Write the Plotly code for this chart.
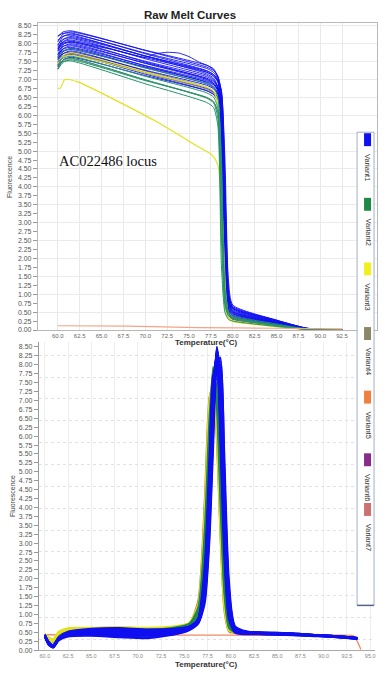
import plotly.graph_objects as go

# ---------------- DATA ----------------
# Top panel: raw melt curves (temperature grid shared by most samples)
TOP_T = [60.0, 60.6, 61.5, 70.0, 77.0, 77.8, 78.3, 78.7, 79.1, 79.5, 80.0, 85.0, 88.5, 92.5]

TOP_VARIANT1 = [
    [8.20, 8.33, 8.36, 7.81, 7.35, 7.25, 7.10, 6.60, 3.60, 0.90, 0.62, 0.26, 0.04, 0.0],
    [8.05, 8.27, 8.33, 7.82, 7.40, 7.30, 7.05, 5.80, 1.60, 0.55, 0.40, 0.17, 0.03, 0.0],
    [8.22, 8.29, 8.30, 7.72, 7.25, 7.14, 6.95, 6.40, 2.80, 0.75, 0.50, 0.21, 0.03, 0.0],
    [7.95, 8.20, 8.27, 7.74, 7.31, 7.20, 7.02, 6.70, 4.80, 1.40, 0.70, 0.28, 0.05, 0.0],
    [8.10, 8.21, 8.24, 7.65, 7.16, 7.04, 6.80, 5.20, 1.20, 0.45, 0.33, 0.14, 0.03, 0.0],
    [7.85, 8.12, 8.20, 7.66, 7.21, 7.10, 6.92, 6.30, 2.20, 0.62, 0.45, 0.19, 0.03, 0.0],
    [7.98, 8.12, 8.17, 7.66, 7.24, 7.14, 6.98, 6.65, 4.20, 1.10, 0.58, 0.24, 0.04, 0.0],
    [7.80, 8.06, 8.14, 7.58, 7.12, 7.00, 6.75, 4.90, 1.00, 0.40, 0.30, 0.12, 0.02, 0.0],
    [7.92, 8.05, 8.10, 7.61, 7.20, 7.10, 6.95, 6.55, 3.30, 0.80, 0.52, 0.22, 0.04, 0.0],
    [7.70, 7.98, 8.07, 7.49, 7.02, 6.90, 6.72, 6.20, 2.00, 0.58, 0.42, 0.18, 0.03, 0.0],
    [7.85, 7.99, 8.04, 7.51, 7.08, 6.97, 6.80, 6.45, 3.90, 1.00, 0.66, 0.27, 0.05, 0.0],
    [7.62, 7.92, 8.00, 7.45, 7.00, 6.89, 6.68, 5.60, 1.40, 0.50, 0.36, 0.15, 0.03, 0.0],
    [7.80, 7.93, 7.97, 7.46, 7.04, 6.94, 6.78, 6.35, 2.60, 0.70, 0.48, 0.20, 0.03, 0.0],
    [7.55, 7.86, 7.94, 7.38, 6.92, 6.80, 6.62, 6.10, 3.00, 0.85, 0.55, 0.23, 0.04, 0.0],
    [7.70, 7.85, 7.90, 7.39, 6.97, 6.87, 6.70, 5.40, 1.30, 0.48, 0.34, 0.14, 0.02, 0.0],
    [7.48, 7.78, 7.87, 7.33, 6.88, 6.77, 6.60, 6.20, 3.40, 0.95, 0.60, 0.25, 0.04, 0.0],
    [7.66, 7.79, 7.84, 7.35, 6.94, 6.85, 6.70, 6.30, 2.40, 0.66, 0.46, 0.19, 0.03, 0.0],
    [7.40, 7.72, 7.80, 7.24, 6.78, 6.66, 6.48, 5.00, 1.10, 0.42, 0.31, 0.13, 0.02, 0.0],
    [7.60, 7.72, 7.77, 7.26, 6.84, 6.74, 6.58, 6.15, 3.70, 1.05, 0.64, 0.27, 0.05, 0.0],
    [7.36, 7.65, 7.73, 7.19, 6.75, 6.64, 6.45, 5.90, 1.80, 0.56, 0.40, 0.17, 0.03, 0.0],
    [7.52, 7.64, 7.70, 7.15, 6.69, 6.58, 6.40, 6.00, 2.90, 0.80, 0.52, 0.22, 0.04, 0.0],
    [7.30, 7.55, 7.62, 7.11, 6.69, 6.59, 6.42, 5.30, 1.25, 0.46, 0.34, 0.14, 0.02, 0.0],
]
# one Variant1 sample with a shoulder around 72-74 °C
TOP_V1_BUMP_T = [60.0, 60.6, 61.5, 66.0, 70.0, 71.2, 72.5, 73.8, 75.0, 76.2, 77.2, 77.9,
                 78.4, 78.8, 79.2, 79.6, 80.0, 85.0, 88.5, 92.5]
TOP_V1_BUMP_F = [7.90, 8.02, 8.05, 7.85, 7.62, 7.72, 7.76, 7.74, 7.64, 7.48, 7.38, 7.25,
                 7.00, 6.40, 3.20, 0.90, 0.60, 0.25, 0.04, 0.0]

TOP_VARIANT2 = [
    [7.35, 7.55, 7.60, 6.99, 6.48, 6.35, 5.90, 2.60, 0.70, 0.40, 0.32, 0.12, 0.02, 0.0],
    [7.28, 7.48, 7.55, 6.97, 6.50, 6.38, 6.10, 4.20, 1.00, 0.48, 0.36, 0.14, 0.02, 0.0],
    [7.40, 7.50, 7.52, 6.88, 6.36, 6.22, 5.70, 1.80, 0.50, 0.30, 0.25, 0.10, 0.02, 0.0],
    [7.62, 7.80, 7.85, 7.32, 6.89, 6.78, 6.50, 4.80, 1.20, 0.52, 0.40, 0.17, 0.03, 0.0],
    [7.50, 7.60, 7.65, 7.09, 6.63, 6.51, 6.20, 3.40, 0.80, 0.42, 0.33, 0.13, 0.02, 0.0],
]
TOP_VARIANT3 = [
    [7.45, 7.68, 7.75, 7.22, 6.79, 6.68, 6.30, 3.00, 0.60, 0.30, 0.24, 0.09, 0.01, 0.0],
    [7.52, 7.64, 7.68, 7.19, 6.78, 6.68, 6.40, 4.00, 0.75, 0.34, 0.27, 0.10, 0.02, 0.0],
]
# low yellow outlier
TOP_V3_LOW_T = [60.0, 60.3, 60.8, 62.2, 71.0, 76.2, 77.6, 78.3, 78.8, 79.2, 79.6, 80.0, 85.0, 88.5, 92.5]
TOP_V3_LOW_F = [6.75, 6.76, 7.00, 6.94, 5.86, 5.10, 4.90, 4.60, 3.20, 1.00, 0.35, 0.25, 0.10, 0.02, 0.0]

TOP_VARIANT4 = [
    [7.42, 7.65, 7.72, 7.18, 6.73, 6.62, 6.35, 4.50, 1.00, 0.45, 0.35, 0.14, 0.02, 0.0],
    [7.30, 7.52, 7.58, 6.99, 6.50, 6.38, 6.05, 3.80, 0.85, 0.40, 0.31, 0.12, 0.02, 0.0],
]
TOP_V5_T = [60.0, 68.0, 76.0, 85.0, 92.5]
TOP_V5_F = [0.12, 0.11, 0.07, 0.05, 0.03]

# Bottom panel: melt peaks
BOT_T = [60.0, 60.4, 60.9, 61.5, 62.5, 65.0, 68.0, 71.0, 74.0, 75.5, 76.5, 77.2,
         77.7, 78.1, 78.5, 78.9, 79.3, 79.8, 80.5, 83.0, 86.0, 89.0, 91.5, 93.6]

BOT_VARIANT1 = [
    [0.40, 0.20, 0.10, 0.32, 0.46, 0.52, 0.50, 0.48, 0.55, 0.62, 0.80, 1.60, 3.80, 6.60, 8.40, 7.60, 4.40, 1.40, 0.55, 0.48, 0.46, 0.42, 0.38, 0.33],
    [0.38, 0.16, 0.08, 0.28, 0.42, 0.48, 0.46, 0.45, 0.52, 0.60, 0.85, 2.00, 4.60, 7.30, 8.30, 6.60, 3.40, 1.00, 0.50, 0.46, 0.44, 0.40, 0.37, 0.32],
    [0.42, 0.22, 0.12, 0.35, 0.50, 0.56, 0.58, 0.55, 0.58, 0.65, 0.78, 1.50, 3.60, 6.40, 8.30, 7.80, 4.60, 1.50, 0.58, 0.50, 0.48, 0.43, 0.39, 0.34],
    [0.36, 0.18, 0.09, 0.30, 0.40, 0.44, 0.42, 0.40, 0.48, 0.58, 0.90, 2.40, 5.40, 7.70, 7.90, 5.60, 2.60, 0.85, 0.48, 0.44, 0.42, 0.39, 0.36, 0.31],
    [0.44, 0.24, 0.14, 0.36, 0.52, 0.60, 0.62, 0.58, 0.60, 0.66, 0.82, 1.80, 4.20, 7.00, 8.50, 7.20, 3.90, 1.20, 0.56, 0.50, 0.47, 0.43, 0.38, 0.33],
    [0.39, 0.19, 0.10, 0.31, 0.44, 0.46, 0.40, 0.36, 0.45, 0.56, 0.76, 1.40, 3.20, 5.90, 8.00, 8.10, 5.20, 1.80, 0.62, 0.47, 0.45, 0.41, 0.37, 0.32],
    [0.41, 0.21, 0.11, 0.33, 0.47, 0.54, 0.55, 0.52, 0.56, 0.63, 0.84, 1.90, 4.40, 7.20, 8.40, 6.90, 3.60, 1.10, 0.52, 0.48, 0.46, 0.42, 0.38, 0.33],
    [0.37, 0.15, 0.07, 0.27, 0.38, 0.40, 0.36, 0.33, 0.44, 0.55, 0.74, 1.30, 3.00, 5.60, 7.90, 8.20, 5.60, 2.00, 0.66, 0.46, 0.43, 0.40, 0.36, 0.31],
    [0.43, 0.23, 0.13, 0.35, 0.49, 0.58, 0.60, 0.57, 0.60, 0.66, 0.88, 2.20, 5.00, 7.60, 8.20, 6.20, 3.00, 0.95, 0.52, 0.49, 0.47, 0.43, 0.39, 0.34],
    [0.40, 0.20, 0.10, 0.32, 0.45, 0.50, 0.48, 0.46, 0.52, 0.60, 0.80, 1.70, 4.00, 6.80, 8.45, 7.40, 4.10, 1.30, 0.54, 0.48, 0.46, 0.42, 0.38, 0.33],
    [0.38, 0.17, 0.08, 0.29, 0.41, 0.45, 0.43, 0.41, 0.49, 0.58, 0.79, 1.55, 3.50, 6.20, 8.10, 7.70, 4.80, 1.60, 0.60, 0.46, 0.44, 0.40, 0.37, 0.32],
    [0.42, 0.22, 0.12, 0.34, 0.48, 0.55, 0.57, 0.54, 0.57, 0.64, 0.86, 2.10, 4.80, 7.40, 8.20, 6.40, 3.20, 0.98, 0.51, 0.49, 0.47, 0.43, 0.39, 0.34],
    [0.40, 0.19, 0.10, 0.31, 0.44, 0.49, 0.47, 0.44, 0.51, 0.59, 0.77, 1.45, 3.40, 6.10, 8.20, 7.90, 4.90, 1.70, 0.60, 0.47, 0.45, 0.41, 0.37, 0.32],
    [0.41, 0.21, 0.11, 0.33, 0.46, 0.53, 0.53, 0.50, 0.54, 0.62, 0.83, 1.85, 4.30, 7.10, 8.35, 7.00, 3.70, 1.15, 0.53, 0.48, 0.46, 0.42, 0.38, 0.33],
    [0.39, 0.18, 0.09, 0.30, 0.43, 0.47, 0.44, 0.42, 0.50, 0.59, 0.81, 1.75, 4.10, 6.90, 8.25, 7.20, 4.00, 1.25, 0.55, 0.47, 0.45, 0.41, 0.37, 0.32],
    [0.43, 0.23, 0.13, 0.35, 0.50, 0.57, 0.59, 0.56, 0.59, 0.65, 0.80, 1.60, 3.70, 6.50, 8.30, 7.70, 4.50, 1.45, 0.57, 0.50, 0.48, 0.43, 0.39, 0.34],
    [0.38, 0.17, 0.08, 0.29, 0.40, 0.42, 0.38, 0.35, 0.46, 0.57, 0.87, 2.20, 5.10, 7.60, 8.00, 6.00, 2.90, 0.92, 0.50, 0.45, 0.43, 0.40, 0.36, 0.31],
    [0.41, 0.20, 0.11, 0.32, 0.46, 0.52, 0.51, 0.49, 0.54, 0.61, 0.78, 1.50, 3.50, 6.30, 8.40, 7.90, 4.70, 1.55, 0.58, 0.48, 0.46, 0.42, 0.38, 0.33],
    [0.40, 0.20, 0.10, 0.32, 0.45, 0.51, 0.49, 0.47, 0.53, 0.61, 0.82, 1.80, 4.20, 7.00, 8.30, 7.10, 3.80, 1.20, 0.54, 0.48, 0.46, 0.42, 0.38, 0.33],
    [0.42, 0.21, 0.12, 0.34, 0.47, 0.54, 0.56, 0.53, 0.56, 0.63, 0.79, 1.65, 3.90, 6.70, 8.50, 7.50, 4.20, 1.35, 0.55, 0.49, 0.47, 0.43, 0.39, 0.34],
]
BOT_VARIANT2 = [
    [0.40, 0.22, 0.14, 0.36, 0.50, 0.56, 0.58, 0.56, 0.62, 0.72, 1.20, 3.40, 6.50, 7.80, 6.80, 4.00, 1.60, 0.62, 0.50, 0.48, 0.46, 0.42, 0.38, 0.33],
    [0.42, 0.24, 0.15, 0.38, 0.52, 0.58, 0.60, 0.58, 0.64, 0.74, 1.05, 2.80, 5.80, 7.70, 7.30, 4.70, 2.00, 0.70, 0.51, 0.49, 0.47, 0.43, 0.39, 0.34],
    [0.38, 0.20, 0.12, 0.34, 0.48, 0.54, 0.55, 0.53, 0.60, 0.70, 1.10, 3.00, 6.00, 7.95, 7.10, 4.40, 1.80, 0.66, 0.49, 0.47, 0.45, 0.41, 0.37, 0.32],
    [0.41, 0.21, 0.13, 0.35, 0.49, 0.55, 0.57, 0.55, 0.61, 0.71, 0.95, 2.40, 5.20, 7.50, 7.60, 5.30, 2.40, 0.78, 0.50, 0.48, 0.46, 0.42, 0.38, 0.33],
]
BOT_VARIANT3 = [
    [0.45, 0.35, 0.30, 0.50, 0.60, 0.62, 0.64, 0.62, 0.66, 0.75, 1.30, 4.00, 7.00, 7.50, 6.00, 3.20, 1.20, 0.55, 0.50, 0.48, 0.46, 0.43, 0.39, 0.34],
    [0.44, 0.32, 0.26, 0.48, 0.58, 0.60, 0.62, 0.60, 0.64, 0.73, 1.20, 3.60, 6.70, 7.80, 6.50, 3.60, 1.40, 0.58, 0.52, 0.49, 0.47, 0.43, 0.39, 0.34],
    [0.46, 0.36, 0.31, 0.52, 0.62, 0.63, 0.65, 0.63, 0.67, 0.76, 1.10, 3.20, 6.20, 7.90, 7.00, 4.20, 1.70, 0.62, 0.52, 0.50, 0.48, 0.44, 0.40, 0.35],
    [0.43, 0.30, 0.24, 0.46, 0.56, 0.58, 0.60, 0.58, 0.62, 0.72, 1.00, 2.70, 5.60, 7.60, 7.40, 4.90, 2.10, 0.72, 0.52, 0.49, 0.47, 0.43, 0.39, 0.34],
]
BOT_VARIANT4 = [
    [0.40, 0.22, 0.14, 0.36, 0.50, 0.55, 0.56, 0.54, 0.60, 0.70, 1.00, 2.60, 5.50, 7.60, 7.40, 5.00, 2.20, 0.74, 0.51, 0.48, 0.46, 0.42, 0.38, 0.33],
]
BOT_VARIANT7 = [
    [0.42, 0.30, 0.22, 0.44, 0.54, 0.56, 0.57, 0.55, 0.60, 0.72, 1.40, 4.30, 7.10, 7.40, 5.80, 3.00, 1.10, 0.52, 0.48, 0.46, 0.44, 0.41, 0.37, 0.32],
]
BOT_V5_T = [60.0, 70.0, 80.0, 90.0, 93.2, 93.6, 94.0]
BOT_V5_F = [0.43, 0.42, 0.42, 0.41, 0.40, 0.25, 0.02]

LEGEND_NAMES = ["Variant1", "Variant2", "Variant3", "Variant4", "Variant5", "Variant6", "Variant7"]
LEGEND_COLORS = ["#1010f0", "#1e8a46", "#f0f020", "#8a876a", "#f08040", "#8a2a8a", "#cc7070"]

TOP_XTICKS = [60.0, 62.5, 65.0, 67.5, 70.0, 72.5, 75.0, 77.5, 80.0, 82.5, 85.0, 87.5, 90.0, 92.5]
BOT_XTICKS = TOP_XTICKS + [95.0]
Y_TICKS = [i * 0.25 for i in range(35)]

# ---------------- FIGURE ----------------
W, H = 389, 676
def px(x): return x / W
def py(y): return 1 - y / H

fig = go.Figure()

def add(xs, ys, color, width, xa, ya, opacity=1.0):
    fig.add_trace(go.Scatter(x=xs, y=ys, mode="lines", xaxis=xa, yaxis=ya,
                             line=dict(color=color, width=width, shape="spline", smoothing=0.6),
                             opacity=opacity, showlegend=False, hoverinfo="skip"))

BLUE, GREEN, YELLOW, OLIVE = "#0f0ff0", "#22936a", "#e2e21c", "#8c8a6a"

# top
for c in TOP_VARIANT1:
    add(TOP_T, c, BLUE, 1.0, "x", "y", 0.9)
add(TOP_V1_BUMP_T, TOP_V1_BUMP_F, BLUE, 1.0, "x", "y", 0.9)
for c in TOP_VARIANT4:
    add(TOP_T, c, OLIVE, 1.0, "x", "y")
for c in TOP_VARIANT3:
    add(TOP_T, c, YELLOW, 1.0, "x", "y")
add(TOP_V3_LOW_T, TOP_V3_LOW_F, YELLOW, 1.2, "x", "y")
for c in TOP_VARIANT2:
    add(TOP_T, c, GREEN, 1.0, "x", "y")
add(TOP_V5_T, TOP_V5_F, "#f4a486", 1.2, "x", "y")

# bottom
add(BOT_V5_T, BOT_V5_F, "#f08a62", 1.4, "x2", "y2")
for c in BOT_VARIANT7:
    add(BOT_T, c, "#c07050", 1.6, "x2", "y2")
for c in BOT_VARIANT3:
    add(BOT_T, c, YELLOW, 1.8, "x2", "y2")
for c in BOT_VARIANT4:
    add(BOT_T, c, OLIVE, 1.6, "x2", "y2")
for c in BOT_VARIANT2:
    add(BOT_T, c, "#1e8a46", 1.8, "x2", "y2")
for c in BOT_VARIANT1:
    add(BOT_T, c, BLUE, 1.8, "x2", "y2")

# empty traces to activate grid-only overlay axes
fig.add_trace(go.Scatter(x=[], y=[], xaxis="x", yaxis="y3", showlegend=False, hoverinfo="skip"))
fig.add_trace(go.Scatter(x=[], y=[], xaxis="x2", yaxis="y4", showlegend=False, hoverinfo="skip"))

tickfont = dict(family="Liberation Sans, Arial, sans-serif", size=7, color="#555")
fmt2 = lambda v: f"{v:.2f}"
fmt1 = lambda v: f"{v:.1f}"

fig.update_layout(
    width=W, height=H, autosize=False,
    margin=dict(l=0, r=0, t=0, b=0),
    paper_bgcolor="white", plot_bgcolor="white",
    showlegend=False,
    xaxis=dict(domain=[px(38), px(378)], range=[57.72, 96.49], anchor="y",
               tickmode="array", tickvals=TOP_XTICKS, ticktext=[fmt1(v) for v in TOP_XTICKS],
               tickfont=dict(tickfont, size=6, color="#666"), ticks="", ticklen=0,
               showgrid=True, gridcolor="#e9e9e9", gridwidth=1,
               showline=True, linecolor="#b8b8b8", mirror=True, zeroline=False),
    yaxis=dict(domain=[py(331), py(22)], range=[0, 8.583], anchor="x",
               tickmode="array", tickvals=Y_TICKS, ticktext=[fmt2(v) for v in Y_TICKS],
               tickfont=tickfont, ticks="outside", ticklen=4, tickcolor="#999",
               showgrid=False, showline=True, linecolor="#b8b8b8", mirror=True, zeroline=False),
    yaxis3=dict(overlaying="y", range=[0, 8.583], anchor="x", tick0=0, dtick=0.5,
                showticklabels=False, ticks="", showgrid=True, gridcolor="#ebebeb",
                showline=False, zeroline=False),
    xaxis2=dict(domain=[px(39), px(376)], range=[59.36, 95.52], anchor="y2",
                tickmode="array", tickvals=BOT_XTICKS, ticktext=[fmt1(v) for v in BOT_XTICKS],
                tickfont=dict(tickfont, size=5.5, color="#888"), ticks="",
                showgrid=True, gridcolor="#eeeeee",
                showline=True, linecolor="#aaaaaa", mirror=False, zeroline=False),
    yaxis2=dict(domain=[py(653), py(343)], range=[0, 8.64], anchor="x2",
                tickmode="array", tickvals=Y_TICKS, ticktext=[fmt2(v) for v in Y_TICKS],
                tickfont=tickfont, ticks="outside", ticklen=4, tickcolor="#999",
                showgrid=False, showline=True, linecolor="#999", zeroline=False),
    yaxis4=dict(overlaying="y2", range=[0, 8.64], anchor="x2", tick0=0.30, dtick=0.613,
                showticklabels=False, ticks="", showgrid=True, gridcolor="#e2e2e2",
                griddash="dot", showline=False, zeroline=False),
)

ann = []
ann.append(dict(text="<b>Raw Melt Curves</b>", x=px(190), y=py(14), xref="paper", yref="paper",
                showarrow=False, xanchor="center", yanchor="middle",
                font=dict(family="Liberation Sans, Arial, sans-serif", size=11.5, color="#222")))
for yy in (344, 667):
    ann.append(dict(text="<b>Temperature(°C)</b>", x=px(207), y=py(yy), xref="paper", yref="paper",
                    showarrow=False, xanchor="center", yanchor="middle",
                    font=dict(family="Liberation Sans, Arial, sans-serif", size=8, color="#333")))
for xx, yy in ((10, 177), (12, 498)):
    ann.append(dict(text="Fluorescence", x=px(xx), y=py(yy), xref="paper", yref="paper",
                    showarrow=False, xanchor="center", yanchor="middle", textangle=-90,
                    font=dict(family="Liberation Sans, Arial, sans-serif", size=7, color="#444")))
ann.append(dict(text="AC022486 locus", x=px(57), y=py(161), xref="paper", yref="paper",
                showarrow=False, xanchor="left", yanchor="middle",
                font=dict(family="Liberation Serif, Times New Roman, serif", size=14.5, color="#111")))

shapes = []
# legend box
shapes.append(dict(type="rect", xref="paper", yref="paper", x0=px(358), x1=px(375), y0=py(608), y1=py(132),
                   fillcolor="white", line=dict(color="#a4aec4", width=1), layer="above"))
shapes.append(dict(type="line", xref="paper", yref="paper", x0=px(358), x1=px(375), y0=py(608), y1=py(608),
                   line=dict(color="#56688a", width=1.5), layer="above"))
SQ_TOP = [133, 198, 263, 328, 392, 455, 505]
for name, col, y0 in zip(LEGEND_NAMES, LEGEND_COLORS, SQ_TOP):
    shapes.append(dict(type="rect", xref="paper", yref="paper", x0=px(365), x1=px(372),
                       y0=py(y0 + 13), y1=py(y0), fillcolor=col, line=dict(width=0), layer="above"))
    ann.append(dict(text=name, x=px(369), y=py(y0 + 34), xref="paper", yref="paper",
                    showarrow=False, xanchor="center", yanchor="middle", textangle=90,
                    font=dict(family="Liberation Sans, Arial, sans-serif", size=7.5, color="#333")))

fig.update_layout(annotations=ann, shapes=shapes)
fig.write_html("out.html", config={"displayModeBar": False, "staticPlot": True},
               post_script="document.body.style.margin='0';document.body.style.overflow='hidden';")
